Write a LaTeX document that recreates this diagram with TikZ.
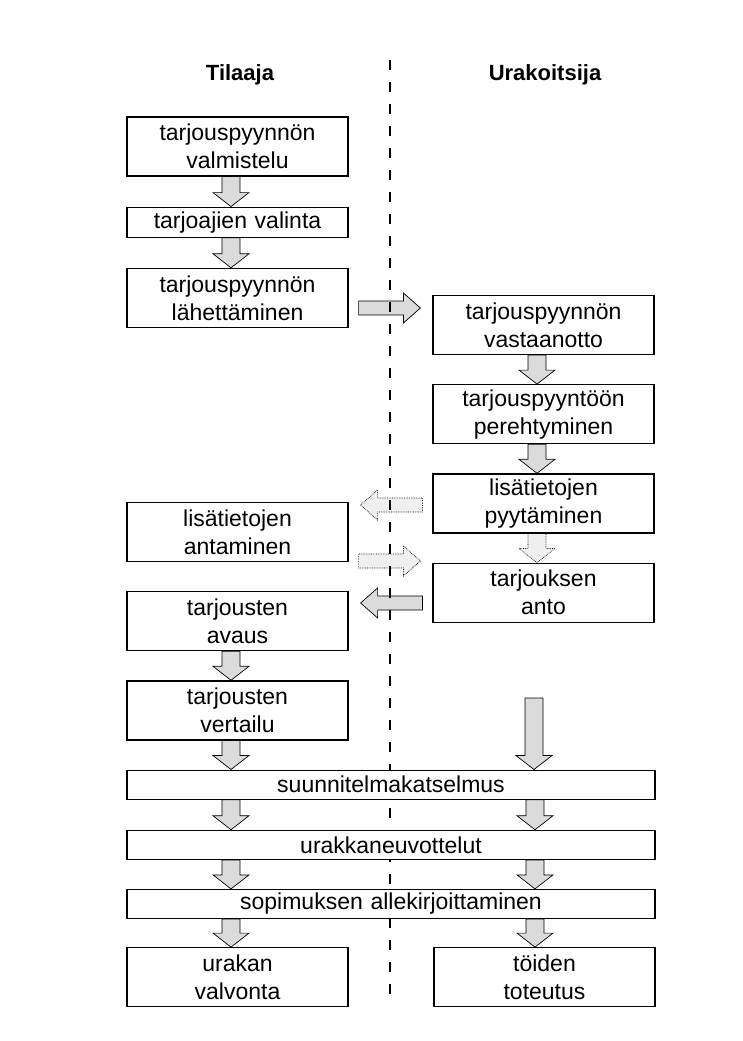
\documentclass[tikz,border=0pt]{standalone}
\usepackage{fontspec}
\setmainfont{Liberation Sans}
\usepackage{tikz}
\usetikzlibrary{calc,positioning,backgrounds}

% block arrow downwards: x, from, to
\newcommand{\vflow}[4][]{%
  \draw[flow,#1] let \p1=(#3), \p2=(#4) in
    (#2pt-9pt,\y1) -- (#2pt+9pt,\y1) -- (#2pt+9pt,\y2+14pt) -- (#2pt+18pt,\y2+14pt)
    -- (#2pt,\y2) -- (#2pt-18pt,\y2+14pt) -- (#2pt-9pt,\y2+14pt) -- cycle;}
% block arrow sideways: y, from, to
\newcommand{\hflow}[4][]{%
  \draw[flow,#1] let \p1=(#3), \p2=(#4), \n1={sign(\x2-\x1)} in
    ({\x1+\n1*10pt},-#2pt-7pt) -- ({\x2-\n1*29pt},-#2pt-7pt) -- ({\x2-\n1*29pt},-#2pt-15pt)
    -- ({\x2-\n1*12pt},-#2pt) -- ({\x2-\n1*29pt},-#2pt+15pt) -- ({\x2-\n1*29pt},-#2pt+7pt)
    -- ({\x1+\n1*10pt},-#2pt+7pt) -- cycle;}

\begin{document}
\begin{tikzpicture}[x=1pt,y=-1pt]
		\tikzstyle{box}=[rectangle, draw=black, fill=white, line width=1.2pt, inner xsep=2pt, inner ysep=0pt, text width=217pt, minimum height=59pt, align=center, font=\fontsize{23}{28}\selectfont]
		\tikzstyle{thin}=[box, minimum height=30pt]
		\tikzstyle{wide}=[box, text width=524pt, minimum height=29pt]
		\tikzstyle{title}=[font=\bfseries\fontsize{22}{26}\selectfont]
		\tikzstyle{flow}=[draw=black, line width=0.7pt, fill=gray!28, line join=miter]
		\tikzstyle{faint}=[densely dotted, fill=gray!12]
		\tikzstyle{sep}=[line width=2.6pt, dash pattern=on 10pt off 12pt]
		%\tikzstyle{frame}=[draw=gray!40]
		\useasboundingbox (0,0) rectangle (742,1041);
		
		\node[title] (tilaaja) at (240,75) {Tilaaja};
		\node[title] (urakoitsija) at (545,75) {Urakoitsija};
		
		% Tilaaja
		\node[box] (valm) at (237.5,146.5) {tarjouspyynnön\\valmistelu};
		\node[thin] (vali) [below=30pt of valm] {tarjoajien valinta};
		\node[box] (lah) [below=30pt of vali] {tarjouspyynnön\\lähettäminen};
		
		\node[box] (ant) at (237.5,532) {lisätietojen\\antaminen};
		\node[box] (avaus) [below=29pt of ant] {tarjousten\\avaus};
		\node[box] (vert) [below=29pt of avaus] {tarjousten\\vertailu};
		
		% Urakoitsija
		\node[box] (vast) at (543.5,325) {tarjouspyynnön\\vastaanotto};
		\node[box] (pere) [below=29pt of vast] {tarjouspyyntöön\\perehtyminen};
		\node[box] (pyyt) [below=29pt of pere] {lisätietojen\\pyytäminen};
		\node[box] (anto) [below=29pt of pyyt] {tarjouksen\\anto};
		
		% yhteiset
		\node[wide] (suun) [below right=29pt and 0pt of vert.south west] {suunnitelmakatselmus};
		\node[wide] (urak) [below=30pt of suun] {urakkaneuvottelut};
		\node[wide] (sop) [below=29pt of urak] {sopimuksen allekirjoittaminen};
		\node[box] (valv) [below right=28pt and 0pt of sop.south west] {urakan\\valvonta};
		\node[box] (tot) [below left=28pt and 0pt of sop.south east] {töiden\\toteutus};
		
		\coordinate (tulo) at (534,698);
		\coordinate (septop) at (390,60);
		\coordinate (sepbot) at (390,998);
		
		\begin{pgfonlayer}{background}
		\vflow{231}{valm.south}{vali.north}
		\vflow{231}{vali.south}{lah.north}
		\vflow{231}{avaus.south}{vert.north}
		\vflow{231}{vert.south}{suun.north}
		\vflow{231}{suun.south}{urak.north}
		\vflow{231}{urak.south}{sop.north}
		\vflow{231}{sop.south}{valv.north}
		
		\vflow{537}{vast.south}{pere.north}
		\vflow{537}{pere.south}{pyyt.north}
		\vflow[faint]{537}{pyyt.south}{anto.north}
		\vflow{534}{tulo}{suun.north}
		\vflow{535}{suun.south}{urak.north}
		\vflow{535}{urak.south}{sop.north}
		\vflow{535}{sop.south}{tot.north}
		
		\hflow{308}{lah.east}{vast.west}
		\hflow[faint]{505}{pyyt.west}{ant.east}
		\hflow[faint]{561}{ant.east}{anto.west}
		\hflow{603}{anto.west}{avaus.east}
		
		\draw[sep] (septop) -- (sepbot);
		\end{pgfonlayer}

	\end{tikzpicture}
\end{document}
